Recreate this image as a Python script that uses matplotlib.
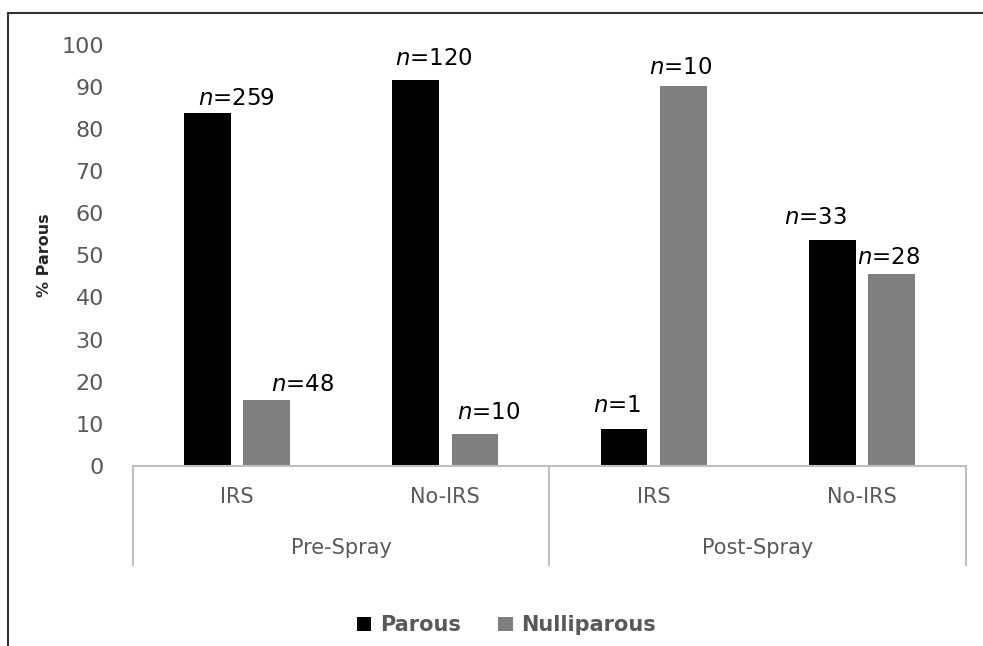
import numpy as np
import matplotlib
matplotlib.use("Agg")
import matplotlib.pyplot as plt
from matplotlib.lines import Line2D
import matplotlib.transforms as mtransforms

# data
periods = ['Pre-Spray', 'Post-Spray']
sites = ['IRS', 'No-IRS', 'IRS', 'No-IRS']
parous = [83.7, 91.6, 8.9, 53.6]
nulliparous = [15.6, 7.7, 90.2, 45.5]
n_parous = [259, 120, 1, 33]
n_nulli = [48, 10, 10, 28]

# label nudges (points) so they sit like in the original
off_parous = [(21, 2), (13, 7), (-5, 8), (-12, 8)]
off_nulli = [(26, 3), (10, 7), (-2, 5), (-2, 4)]

gray_txt = '#595959'
line_col = '#bfbfbf'

fig = plt.figure(figsize=(9.83, 6.46), dpi=100)
ax = fig.add_axes([0.1353, 0.2786, 0.8474, 0.6525])

x = np.arange(len(sites))
w = 0.225
b1 = ax.bar(x - 0.142, parous, w, color='black', label='Parous')
b2 = ax.bar(x + 0.142, nulliparous, w, color='#7f7f7f', label='Nulliparous')

for bars, ns, offs in [(b1, n_parous, off_parous), (b2, n_nulli, off_nulli)]:
    for r, n, (dx, dy) in zip(bars, ns, offs):
        ax.annotate(f'$n$={n}', (r.get_x() + r.get_width() / 2, r.get_height()),
                    xytext=(dx, dy), textcoords='offset points',
                    ha='center', va='bottom', fontsize=16.5, color='black')

ax.set_xlim(-0.5, 3.5)
ax.set_ylim(0, 100)
ax.set_yticks(range(0, 101, 10))
ax.tick_params(axis='y', length=0, labelsize=16, labelcolor=gray_txt, pad=21)
ax.set_xticks([])
for s in ['top', 'right', 'left']:
    ax.spines[s].set_visible(False)
ax.spines['bottom'].set_color(line_col)
ax.spines['bottom'].set_linewidth(1.5)
ax.set_ylabel('% Parous', fontsize=11.5, fontweight='bold', color='#262626')
ax.yaxis.set_label_coords(-0.097, 0.5)

# two-level category axis
trans = mtransforms.blended_transform_factory(ax.transData, ax.transAxes)
for xv in [-0.5, 1.5, 3.5]:
    ax.plot([xv, xv], [0, -0.235], transform=trans, color=line_col, lw=1.5, clip_on=False)
for xv, lab in zip(x, sites):
    ax.text(xv, -0.074, lab, transform=trans, ha='center', va='center',
            fontsize=15, color=gray_txt)
for xv, lab in zip([0.5, 2.5], periods):
    ax.text(xv, -0.195, lab, transform=trans, ha='center', va='center',
            fontsize=15, color=gray_txt)

fig.legend(handles=[b1, b2], loc='center', bbox_to_anchor=(0.515, 0.032), ncol=2,
           frameon=False, handlelength=0.7, handleheight=0.7, columnspacing=1.8,
           handletextpad=0.4, labelcolor=gray_txt,
           prop={'size': 15, 'weight': 'bold'})

# outer frame (top and left only)
fig.add_artist(Line2D([8 / 983, 1], [1 - 13 / 646] * 2, color='#333333', lw=1.5))
fig.add_artist(Line2D([8 / 983] * 2, [0, 1 - 13 / 646], color='#333333', lw=1.5))

fig.savefig('out.png', dpi=100)
